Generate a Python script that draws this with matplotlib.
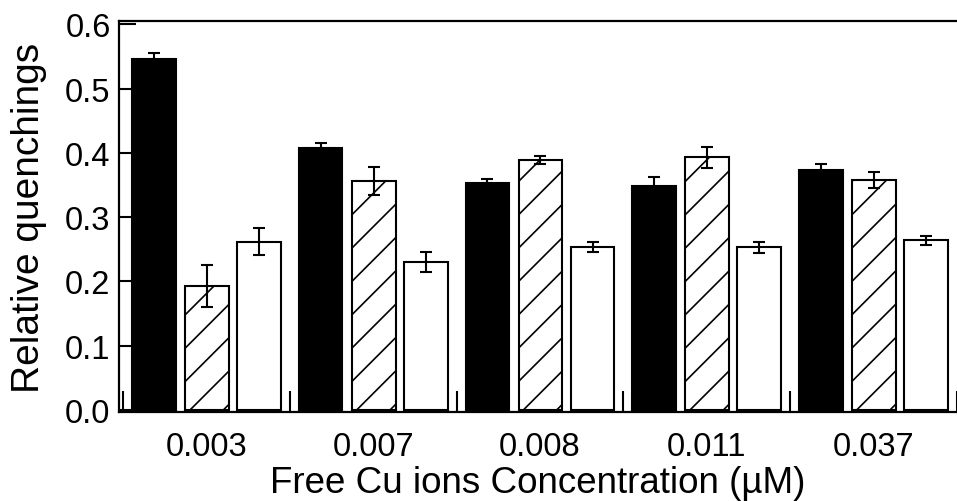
import numpy as np
import matplotlib
matplotlib.use("Agg")
import matplotlib.pyplot as plt

plt.rcParams['font.family'] = ['Liberation Sans', 'DejaVu Sans']
plt.rcParams['hatch.linewidth'] = 1.2

# free Cu concentrations (uM) and the three quenching series
conc = ['0.003', '0.007', '0.008', '0.011', '0.037']
solid = [0.546, 0.407, 0.353, 0.348, 0.373]
solid_err = [0.009, 0.008, 0.006, 0.015, 0.009]
hatched = [0.193, 0.356, 0.389, 0.393, 0.358]
hatched_err = [0.033, 0.022, 0.006, 0.016, 0.012]
empty = [0.262, 0.230, 0.254, 0.253, 0.264]
empty_err = [0.021, 0.016, 0.008, 0.009, 0.007]

fig = plt.figure(figsize=(9.57, 5.02), dpi=100)
ax = fig.add_axes([0.1243, 0.1773, 0.8757, 0.7789])

x = np.arange(len(conc))
w = 0.262
offs = [0.185, 0.503, 0.815]
ekw = dict(ecolor='black', elinewidth=1.5, capsize=4.5, capthick=1.5)

ax.bar(x + offs[0], solid, w, color='black', edgecolor='black', linewidth=1.5,
       yerr=solid_err, error_kw=ekw, zorder=2)
ax.bar(x + offs[1], hatched, w, color='white', edgecolor='black', linewidth=1.5,
       hatch='/', yerr=hatched_err, error_kw=ekw, zorder=2)
ax.bar(x + offs[2], empty, w, color='white', edgecolor='black', linewidth=1.5,
       yerr=empty_err, error_kw=ekw, zorder=2)

ax.set_xlim(-0.024, 4.964)
ax.set_ylim(-0.003, 0.605)

# group separators as major ticks, concentration labels on minor ticks
ax.set_xticks(np.arange(len(conc) + 1))
ax.set_xticklabels([])
ax.set_xticks(x + 0.5, minor=True)
ax.set_xticklabels(conc, minor=True, fontsize=23.5)
ax.tick_params(axis='x', which='major', direction='in', length=15, width=1.5)
ax.tick_params(axis='x', which='minor', length=0, pad=14)

ax.set_yticks(np.arange(0, 0.61, 0.1))
ax.set_yticklabels([f'{v:.1f}' for v in np.arange(0, 0.61, 0.1)], fontsize=23.5)
ax.tick_params(axis='y', direction='in', length=12, width=1.5, pad=6)

for s in ['left', 'top', 'bottom']:
    ax.spines[s].set_linewidth(1.6)
ax.spines['right'].set_visible(False)

ax.set_ylabel('Relative quenchings', fontsize=28, labelpad=13)
ax.set_xlabel('Free Cu ions Concentration (\u00b5M)', fontsize=26.5, labelpad=2)

fig.savefig('out.png', dpi=100)
